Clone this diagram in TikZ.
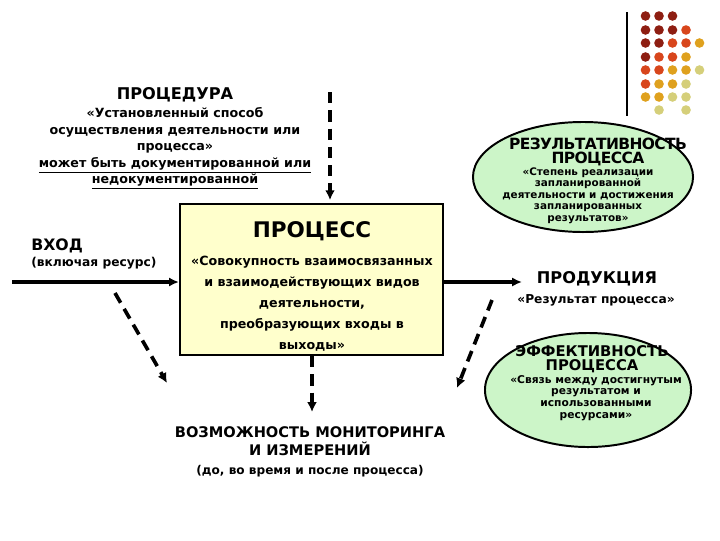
\documentclass[tikz,border=0pt]{standalone}
\usepackage{fontspec}
\setmainfont{DejaVu Sans}
\usetikzlibrary{arrows.meta,positioning,shapes.geometric}
\definecolor{BoxFill}{HTML}{FFFFCC}
\definecolor{OvalFill}{HTML}{CCF5C8}
\definecolor{DotA}{HTML}{8E1E12}
\definecolor{DotB}{HTML}{D8461C}
\definecolor{DotC}{HTML}{DFA11E}
\definecolor{DotD}{HTML}{D5CF7A}
\newcommand{\setfs}[2]{\fontsize{#1}{#2}\selectfont}

\begin{document}
\begin{tikzpicture}[x=0.025cm,y=-0.025cm,>=Latex,
  flow/.style={->,line width=2.6pt,>={Latex[length=7pt,width=6.5pt]}},
  dflow/.style={->,line width=2.6pt,dash pattern=on 8pt off 5pt,>={Latex[length=7pt,width=7pt]}},
  ttl/.style={font=\bfseries\setfs{11.5}{12.8},align=center,inner sep=0pt},
  txt/.style={font=\bfseries\setfs{9}{11.7},align=center,inner sep=0pt},
  small/.style={font=\bfseries\setfs{7.4}{8.2},align=center,inner sep=0pt},
  oval/.style={ellipse,draw,line width=1.4pt,fill=OvalFill,inner sep=0pt}]
  \useasboundingbox (0,0) rectangle (720,540);
  % corner decoration
  \draw[line width=0.8pt] (627,12) -- (627,116);
  \foreach \row/\cols in {16/{DotA,DotA,DotA},30/{DotA,DotA,DotA,DotB},43/{DotA,DotA,DotB,DotB,DotC},
      57/{DotA,DotB,DotB,DotC},70/{DotB,DotB,DotC,DotC,DotD},84/{DotB,DotC,DotC,DotD},
      97/{DotC,DotC,DotD,DotD},110/{white,DotD,white,DotD}}
    \foreach \c [count=\i] in \cols \fill[\c] (632+13.5*\i,\row) circle (0.12cm);

  % procedure
  \node[ttl,anchor=base] (proc) at (175,99) {ПРОЦЕДУРА};
  \node[txt,anchor=north] (procdef) at (175,107.5) {«Установленный способ\\осуществления деятельности или\\процесса»\\
    \underline{может быть документированной или}\\\underline{недокументированной}};

  % process box
  \node[draw,line width=1.5pt,fill=BoxFill,minimum width=6.575cm,minimum height=3.775cm] (box) at (311.5,279.5) {};
  \node[font=\bfseries\setfs{15.3}{17},inner sep=0pt,anchor=base] (pr) at (312,237) {ПРОЦЕСС};
  \node[txt,anchor=north,font=\bfseries\setfs{9}{15}] (prdef) at (312,255.5) {«Совокупность взаимосвязанных\\и взаимодействующих видов\\
    деятельности,\\преобразующих входы в\\выходы»};

  % input
  \node[ttl,anchor=base west,font=\bfseries\setfs{11.2}{12}] (vhod) at (31,250) {ВХОД};
  \node[txt,anchor=base west,font=\bfseries\setfs{8.7}{10}] (res) at (31,266) {(включая ресурс)};

  % effectiveness of result
  \node[oval,minimum width=5.5cm,minimum height=2.75cm] (ovres) at (583,177) {};
  \node[ttl,anchor=north,font=\bfseries\setfs{11}{10}\addfontfeature{LetterSpace=-4}] (rezt) at (598,137.5) {РЕЗУЛЬТАТИВНОСТЬ\\ПРОЦЕССА};
  \node[small,anchor=north] (rezd) at (588,167) {«Степень реализации\\запланированной\\деятельности и достижения\\
    запланированных\\результатов»};

  % output
  \node[ttl,anchor=base] (prod) at (597,283) {ПРОДУКЦИЯ};
  \node[txt,anchor=base,font=\bfseries\setfs{8.7}{10}] (prodd) at (596,303) {«Результат процесса»};

  % efficiency
  \node[oval,minimum width=5.15cm,minimum height=2.85cm] (oveff) at (588,390) {};
  \node[ttl,anchor=north,font=\bfseries\setfs{10.5}{10}] (efft) at (592,345) {ЭФФЕКТИВНОСТЬ\\ПРОЦЕССА};
  \node[small,anchor=north,font=\bfseries\setfs{7.6}{8.3}] (effd) at (596,375) {«Связь между достигнутым\\результатом и\\
    использованными\\ресурсами»};

  % monitoring
  \node[ttl,anchor=north,font=\bfseries\setfs{10.4}{12.8}] (mon) at (310,426) {ВОЗМОЖНОСТЬ МОНИТОРИНГА\\И ИЗМЕРЕНИЙ};
  \node[txt,anchor=base,font=\bfseries\setfs{8.6}{10}] (mond) at (310,474) {(до, во время и после процесса)};

  % connectors
  \coordinate (inS) at (12,282);
  \coordinate (outE) at (522,282);
  \coordinate (topS) at (330,92);
  \coordinate (lS) at (115,293);
  \coordinate (lE) at (167,383);
  \coordinate (rS) at (492,300);
  \coordinate (rE) at (457,388);
  \coordinate (monE) at (312,412);
  \draw[flow] (inS) -- (inS -| box.west);
  \draw[flow] (outE -| box.east) -- (outE);
  \draw[dflow,shorten >=2pt] (topS) -- (topS |- box.north);
  \draw[dflow] (monE |- box.south) -- (monE);
  \draw[dflow] (lS) -- (lE);
  \draw[dflow] (rS) -- (rE);
\end{tikzpicture}
\end{document}
